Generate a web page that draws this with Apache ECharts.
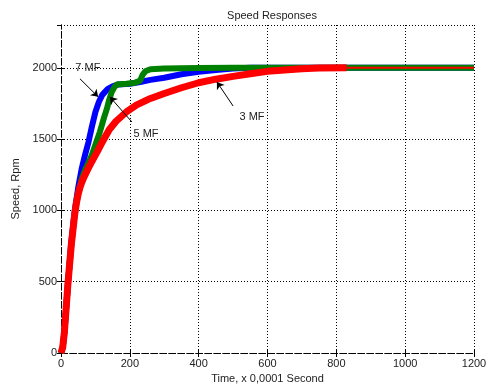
<!DOCTYPE html>
<html>
<head>
<meta charset="utf-8">
<script src="https://cdn.jsdelivr.net/npm/echarts@6/dist/echarts.min.js"></script>
<style>
  html, body { margin: 0; padding: 0; background: #fff; }
  #chart { width: 491px; height: 390px; }
</style>
</head>
<body>
<div id="chart"></div>
<script>
// time in units of 0.0001 s, speed in rpm
const speed7MF = [
  [0, 0], [5, 40], [10, 150], [20, 480], [30, 780], [40, 1000], [50, 1160], [60, 1290],
  [70, 1390], [80, 1480], [90, 1590], [100, 1690], [110, 1760], [120, 1810], [135, 1850],
  [150, 1870], [165, 1882], [200, 1888], [230, 1900], [260, 1915], [300, 1930], [350, 1955],
  [400, 1972], [450, 1985], [500, 1995], [550, 2000], [1200, 2000]
]
const speed5MF = [
  [0, 0], [5, 40], [10, 150], [20, 480], [30, 760], [40, 980], [50, 1120], [60, 1220],
  [70, 1285], [80, 1335], [90, 1390], [100, 1460], [113, 1550], [125, 1650], [133, 1710],
  [140, 1775], [147, 1828], [155, 1865], [162, 1882], [190, 1888], [215, 1895], [230, 1910],
  [237, 1950], [245, 1975], [260, 1990], [300, 1995], [400, 1998], [500, 2000], [1200, 2000]
]
const speed3MF = [
  [0, 0], [5, 40], [10, 150], [20, 480], [30, 760], [40, 975], [45, 1055], [50, 1115],
  [55, 1160], [60, 1195], [67, 1235], [75, 1275], [90, 1345], [105, 1410], [120, 1480],
  [140, 1565], [160, 1625], [190, 1690], [220, 1740], [260, 1785], [300, 1820], [350, 1860],
  [400, 1895], [450, 1920], [500, 1940], [550, 1958], [600, 1975], [650, 1985], [700, 1993],
  [750, 1998], [830, 2000], [1200, 2000]
]
// annotation text position and arrow [from, to] in data coords
const notes = [
  { name: '7 MF', text: [78, 2000], from: [55, 1923], to: [108, 1796] },
  { name: '5 MF', text: [247, 1535], from: [206, 1620], to: [142, 1796] },
  { name: '3 MF', text: [555, 1655], from: [500, 1732], to: [453, 1901] }
]
const xTicks = { min: 0, max: 1200, interval: 200 }
const yTicks = { min: 0, max: 2300, interval: 500 }

const font = 'Liberation Sans, Arial, sans-serif'
const dotted = { color: '#000', type: [1, 2], width: 1 }
const dashed = { color: '#000', type: [6, 3], width: 1 }

const chart = echarts.init(document.getElementById('chart'))

const hiddenAxis = {
  axisLine: { show: true, lineStyle: dashed },
  axisTick: { show: true, inside: true, length: 4, lineStyle: { color: '#000' } },
  axisLabel: { show: false },
  splitLine: { show: false }
}

chart.setOption({
  animation: false,
  backgroundColor: '#fff',
  title: {
    text: 'Speed Responses',
    left: 267, top: 5, textAlign: 'center',
    textStyle: { fontFamily: font, fontSize: 11, fontWeight: 'normal', color: '#222' }
  },
  grid: { left: 61, right: 17, top: 25, bottom: 37 },
  xAxis: [{
    type: 'value', ...xTicks,
    name: 'Time, x 0,0001 Second', nameLocation: 'middle', nameGap: 20,
    nameTextStyle: { fontFamily: font, fontSize: 11, color: '#222' },
    axisLine: { show: true, onZero: false, lineStyle: dashed },
    axisTick: { show: true, inside: true, length: 4, lineStyle: { color: '#000' } },
    axisLabel: { fontFamily: font, fontSize: 11, color: '#222', margin: 5, formatter: v => String(v) },
    splitLine: { show: true, lineStyle: dotted }
  }, {
    type: 'value', position: 'top', ...xTicks, ...hiddenAxis
  }],
  yAxis: [{
    type: 'value', ...yTicks,
    name: 'Speed, Rpm', nameLocation: 'middle', nameGap: 38,
    nameTextStyle: { fontFamily: font, fontSize: 11, color: '#222' },
    axisLine: { show: true, onZero: false, lineStyle: dashed },
    axisTick: { show: true, inside: true, length: 4, lineStyle: { color: '#000' } },
    axisLabel: { fontFamily: font, fontSize: 11, color: '#222', margin: 4, showMaxLabel: false, formatter: v => String(v) },
    splitLine: { show: true, lineStyle: dotted }
  }, {
    type: 'value', position: 'right', ...yTicks, ...hiddenAxis
  }],
  series: [
    {
      name: '7 MF', type: 'line', data: speed7MF, showSymbol: false,
      lineStyle: { color: '#0000ff', width: 6 }, z: 2
    },
    {
      name: '5 MF', type: 'line', data: speed5MF, showSymbol: false,
      lineStyle: { color: '#008000', width: 6 }, z: 3
    },
    {
      name: '3 MF', type: 'line', data: speed3MF.filter(p => p[0] <= 830), showSymbol: false,
      lineStyle: { color: '#ff0000', width: 7 }, z: 4,
      markLine: {
        silent: true, symbol: ['none', 'arrow'], symbolSize: 7,
        lineStyle: { color: '#000', width: 1, type: 'solid' },
        label: { show: false },
        data: notes.map(n => [{ coord: n.from }, { coord: n.to }])
      },
      markPoint: {
        silent: true, symbol: 'circle', symbolSize: 0,
        label: { show: true, formatter: '{b}', fontFamily: font, fontSize: 11, color: '#222' },
        data: notes.map(n => ({ name: n.name, coord: n.text }))
      }
    },
    {
      name: '3 MF tail', type: 'line', data: speed3MF.filter(p => p[0] >= 830), showSymbol: false,
      lineStyle: { color: '#ff0000', width: 2 }, z: 5
    }
  ]
})
</script>
</body>
</html>
